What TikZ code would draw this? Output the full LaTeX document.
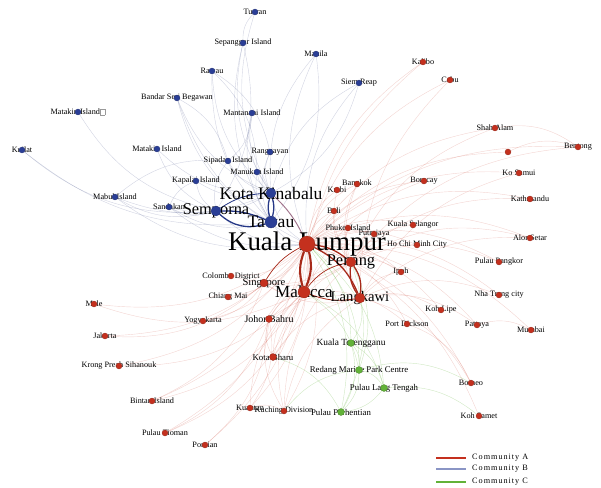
\documentclass[tikz,border=0pt]{standalone}
\usepackage{fontspec}
\setmainfont{Liberation Serif}
\usetikzlibrary{backgrounds}
\definecolor{comA}{RGB}{196,48,30}
\definecolor{comB}{RGB}{42,62,150}
\definecolor{comC}{RGB}{98,178,56}
\newcommand{\tofubox}{{\setlength{\fboxsep}{0pt}\setlength{\fboxrule}{0.3pt}\color{black!40}\fbox{\phantom{l}\hspace{2pt}}}}
\tikzset{
  lab/.style={inner sep=0pt, text=black},
  dotA/.style={circle, inner sep=0pt, fill=comA, draw=comA!70!black, line width=0.2pt},
  dotB/.style={circle, inner sep=0pt, fill=comB, draw=comB!70!black, line width=0.2pt},
  dotC/.style={circle, inner sep=0pt, fill=comC, draw=comC!70!black, line width=0.2pt},
  edgeA/.style={draw=comA, opacity=0.2, line width=0.35pt, bend left=22},
  edgeB/.style={draw=comB!60!gray, opacity=0.25, line width=0.35pt, bend left=22},
  edgeC/.style={draw=comC, opacity=0.3, line width=0.35pt, bend left=22},
  heavyA/.style={draw=comA!85!black, line width=1.1pt},
  heavyB/.style={draw=comB!90!black, line width=1.1pt},
  legline/.style={line width=1.6pt},
  legtext/.style={anchor=west, inner sep=0pt, font=\fontsize{7}{7}\selectfont\addfontfeature{LetterSpace=12}}
}
% name/x/y/label/font size/radius
\def\nodesB{tuaran/255/12/Tuaran/7/3, sepanggar/243/43/Sepanggar Island/7/3,
  rawau/212/71/Rawau/7/3, manila/316/54/Manila/7/3, bsb/177/98/Bandar Seri Begawan/7/3,
  mantanani/252/113/Mantanani Island/7/3, siemreap/359/83/Siem Reap/7/3,
  matakinA/78/112/{Matakin Island\tofubox}/7/3, kuilat/22/150/Kuilat/7/3,
  matakinB/157/149/Matakin Island/7/3, ranggayan/270/152/Ranggayan/7/3,
  sipadan/228/161/Sipadan Island/7/3, manukan/257/172/Manukan Island/7/3,
  kapalai/196/181/Kapalai Island/7/3, mabul/115/197/Mabul Island/7/3,
  sandakan/169/207/Sandakan/7/3, kk/271/193/Kota Kinabalu/15/5,
  semporna/216/211/Semporna/14/5, tawau/271/222/Tawau/15/6}
\def\nodesA{kl/307/244/Kuala Lumpur/23/8, kalibo/423/62/Kalibo/7/3, cebu/450/80/Cebu/7/3,
  shahalam/495/128/Shah Alam/7/3, anon/508/152/{}/7/3, bentong/578/147/Bentong/7/3,
  kosamui/519/173/Ko Samui/7/3, kathmandu/530/199/Kathmandu/7/3,
  bangkok/357/184/Bangkok/7/3, krabi/337/190/Krabi/7/3, boracay/424/181/Boracay/7/3,
  bali/334/211/Bali/7/3, phuket/348/228/Phuket Island/7/3, putrajaya/374/234/Putrajaya/7/3,
  selangor/413/225/Kuala Selangor/7/3, hcmc/417/245/Ho Chi Minh City/7/3,
  alorsetar/530/238/Alor Setar/7/3, penang/351/262/Penang/14/5,
  pangkor/499/262/Pulau Pangkor/7/3, ipoh/401/272/Ipoh/7/3,
  langkawi/360/298/Langkawi/12.5/5, malacca/304/292/Malacca/14.5/6,
  singapore/264/283/Singapore/9/4, colombo/231/276/Colombo District/7/3,
  chiangmai/228/297/Chiang Mai/7/3, nhatrang/499/295/Nha Trang city/7/3,
  kohlipe/441/310/Koh Lipe/7/3, johor/269/319/Johor Bahru/8.5/3.5,
  yogya/203/321/Yogyakarta/7/3, male/94/304/Male/7/3, dickson/407/324/Port Dickson/7/3,
  pattaya/477/325/Pattaya/7/3, mumbai/531/330/Mumbai/7/3, jakarta/105/336/Jakarta/7/3,
  kotabharu/273/357/Kota Bharu/7.5/3.5, sihanouk/119/366/Krong Preah Sihanouk/7/3,
  borneo/471/383/Borneo/7/3, bintan/152/401/Bintan Island/7/3, kuantan/250/408/Kuantan/7/3,
  kuching/284/411/Kuching Division/7/3, kohsamet/479/416/Koh Samet/7/3,
  tioman/165/433/Pulau Tioman/7/3, pontian/205/445/Pontian/7/3}
\def\nodesC{terengganu/351/343/Kuala Terengganu/8/3.5,
  redang/359/370/Redang Marine Park Centre/7.5/3.5,
  langtengah/384/388/Pulau Lang Tengah/7.5/3.5, perhentian/341/412/Pulau Perhentian/7.5/3.5}
\begin{document}
\begin{tikzpicture}[x=0.03cm, y=-0.03cm]
		%%%%% START %%%%%
		\useasboundingbox (0,0) rectangle (601,488);
		
		% labels first, dots on top
		\foreach \n/\x/\y/\t/\s/\r in \nodesB {\node[lab, font=\fontsize{\s}{\s}\selectfont] (t-\n) at (\x,\y) {\t};}
		\foreach \n/\x/\y/\t/\s/\r in \nodesA {\node[lab, font=\fontsize{\s}{\s}\selectfont] (t-\n) at (\x,\y) {\t};}
		\foreach \n/\x/\y/\t/\s/\r in \nodesC {\node[lab, font=\fontsize{\s}{\s}\selectfont] (t-\n) at (\x,\y) {\t};}
		
		\foreach \n/\x/\y/\t/\s/\r in \nodesB {\node[dotB, minimum size={0.6mm*\r}] (\n) at (\x,\y) {};}
		\foreach \n/\x/\y/\t/\s/\r in \nodesA {\node[dotA, minimum size={0.6mm*\r}] (\n) at (\x,\y) {};}
		\foreach \n/\x/\y/\t/\s/\r in \nodesC {\node[dotC, minimum size={0.6mm*\r}] (\n) at (\x,\y) {};}
		
		\begin{scope}[on background layer]
		% community B
		\foreach \a/\b in {kk/tuaran, kk/sepanggar, kk/rawau, kk/manila, kk/bsb, kk/mantanani,
		  kk/siemreap, kk/ranggayan, kk/manukan, kk/sipadan, kk/kapalai, kk/sandakan, kk/mabul,
		  kk/matakinB, tawau/sepanggar, tawau/rawau, tawau/mantanani, tawau/ranggayan,
		  tawau/manukan, tawau/bsb, tawau/sandakan, tawau/kuilat, semporna/mabul,
		  semporna/sipadan, semporna/kapalai, semporna/matakinA, semporna/matakinB,
		  semporna/sandakan, semporna/kuilat, sepanggar/tuaran, rawau/ranggayan, manila/tawau,
		  bsb/sipadan, rawau/manukan, mantanani/sipadan, sandakan/kapalai, mabul/sipadan,
		  kl/kk, kl/tawau, kl/semporna, kl/sandakan, kl/mabul, kl/siemreap, kl/manila, kl/bsb,
		  siemreap/kk, sepanggar/semporna}
		  \draw[edgeB] (\a) to (\b);
		% community A
		\foreach \b in {kalibo, cebu, shahalam, anon, bentong, kosamui, kathmandu, bangkok,
		  krabi, boracay, bali, phuket, putrajaya, selangor, hcmc, alorsetar, pangkor, ipoh,
		  singapore, colombo, chiangmai, nhatrang, kohlipe, johor, yogya, male, dickson,
		  pattaya, mumbai, jakarta, kotabharu, sihanouk, borneo, bintan, kuantan, kuching,
		  kohsamet, tioman, pontian}
		  \draw[edgeA] (kl) to (\b);
		\foreach \a/\b in {malacca/singapore, penang/singapore, langkawi/singapore,
		  johor/malacca, johor/penang, johor/langkawi, kotabharu/langkawi, kotabharu/penang,
		  kotabharu/malacca, kuching/malacca, kuching/penang, kuching/langkawi, kuantan/malacca,
		  penang/ipoh, penang/hcmc, penang/phuket, penang/bangkok, penang/krabi,
		  langkawi/kohlipe, langkawi/phuket, langkawi/pattaya, penang/shahalam, penang/bentong,
		  anon/bentong, langkawi/alorsetar, penang/pangkor, langkawi/nhatrang, malacca/tioman,
		  malacca/bintan, singapore/bintan, singapore/yogya, singapore/jakarta, johor/pontian,
		  johor/tioman, johor/kuantan, dickson/borneo, pattaya/mumbai, langkawi/kosamui,
		  penang/kathmandu, malacca/male, singapore/chiangmai, malacca/kalibo, langkawi/cebu,
		  malacca/boracay, penang/selangor, malacca/dickson, langkawi/borneo, malacca/sihanouk,
		  penang/colombo, langkawi/ipoh, malacca/putrajaya, penang/bali, langkawi/bangkok,
		  kuching/johor, kotabharu/johor, kuantan/kuching, shahalam/bentong, penang/alorsetar}
		  \draw[edgeA] (\a) to (\b);
		% community C
		\foreach \a/\b in {terengganu/redang, redang/langtengah, redang/perhentian,
		  terengganu/perhentian, terengganu/langtengah, langtengah/perhentian, kl/terengganu,
		  kl/redang, kl/langtengah, kl/perhentian, malacca/redang, langkawi/terengganu,
		  penang/perhentian, langtengah/kohsamet, redang/borneo, kotabharu/perhentian,
		  kuching/redang, malacca/langtengah, penang/redang}
		  \draw[edgeC] (\a) to (\b);
		
		% heavy links
		\draw[heavyA, line width=1.8pt] (kl) to[bend left=18] (malacca);
		\draw[heavyA, line width=1.8pt] (kl) to[bend right=18] (malacca);
		\draw[heavyA] (kl) to[bend left=15] (penang);
		\draw[heavyA] (kl) to[bend left=20] (langkawi);
		\draw[heavyA] (penang) to[bend left=20] (langkawi);
		\draw[heavyA] (penang) to[bend right=20] (langkawi);
		\draw[heavyA, line width=0.7pt] (malacca) to[bend right=15] (langkawi);
		\draw[heavyA, line width=0.6pt] (kl) to[bend right=15] (singapore);
		\draw[heavyA, line width=0.6pt] (malacca) to[bend left=20] (penang);
		\draw[heavyB] (kk) to[bend left=15] (tawau);
		\draw[heavyB] (kk) to[bend right=15] (tawau);
		\draw[heavyB] (semporna) to[bend right=30] (tawau);
		\draw[heavyB] (semporna) to[bend left=12] (tawau);
		\draw[heavyB, line width=0.7pt] (semporna) to[bend left=15] (kk);
		\draw[draw=comB!50!comA, line width=0.8pt, opacity=0.7] (kk) to[bend left=10] (kl);
		\end{scope}
		
		% legend
		\node[legtext] (legA) at (472,458) {Community A};
		\node[legtext] (legB) at (472,469) {Community B};
		\node[legtext] (legC) at (472,482) {Community C};
		\draw[legline, comA] ([xshift=-5.5pt]legA.west) -- ++(-30,0);
		\draw[legline, comB!55!white] ([xshift=-5.5pt]legB.west) -- ++(-30,0);
		\draw[legline, comC] ([xshift=-5.5pt]legC.west) -- ++(-30,0);
		
		%%%%% END %%%%%
	\end{tikzpicture}
\end{document}
